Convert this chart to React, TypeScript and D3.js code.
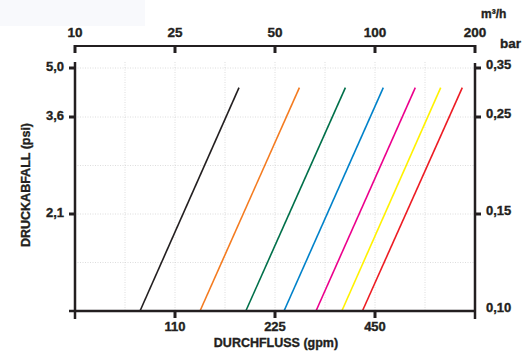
import React from "react";
import * as d3 from "d3";

// ---- data ----
const m3hTicks = [10, 25, 50, 100, 200];
const gpmDomain = [44, 110, 225, 450, 880];
const gpmTicks = [110, 225, 450];
const barDomain = [0.1, 0.15, 0.25, 0.35];
const barTicks = [0.35, 0.25, 0.15];
const barTickLabels = ["0,35", "0,25", "0,15"];
const barBottomLabel = "0,10";
const psiDomain = [1.45, 2.1, 3.6, 5.0];
const psiTicks = [5.0, 3.6, 2.1];
const psiTickLabels = ["5,0", "3,6", "2,1"];
const gridX = [17.5, 25, 37.5, 50, 75, 100, 150];
const gridY = [0.125, 0.15, 0.2, 0.25, 0.35];

const seriesColors = ["#231f20", "#f47b20", "#00704a", "#0082ca", "#ec008c", "#fff200", "#ed1c24"];
// flow (m³/h) at 0.10 bar and at 0.31 bar
const flowLow = [19.75, 31.25, 42.7, 54.5, 70.5, 83.4, 93.7];
const flowHigh = [41, 62.2, 85.2, 108.3, 140.3, 165.7, 187.3];
const pLow = 0.1;
const pHigh = 0.31;

const W = 530;
const H = 356;
const X0 = 75;
const X1 = 475;
const YB = 311;
const YT = 68;

const x = d3.scaleLinear().domain(m3hTicks).range(d3.range(m3hTicks.length).map((i) => X0 + (i * (X1 - X0)) / (m3hTicks.length - 1)));
const xg = d3.scaleLinear().domain(gpmDomain).range(x.range());
const yRange = [YB, 214, 117, YT];
const y = d3.scaleLinear().domain(barDomain).range(yRange);
const yp = d3.scaleLinear().domain(psiDomain).range(yRange);

const line = d3.line<[number, number]>().x((d) => x(d[0])).y((d) => y(d[1]));

const ink = "#231f20";
const font = "'Liberation Sans', Arial, Helvetica, sans-serif";

export default function App() {
  return (
    <svg width={W} height={H} style={{ position: "absolute", left: 0, top: 0, background: "#fff" }} fontFamily={font} fontWeight="bold" fill={ink}>
      <rect x={0} y={0} width={145} height={26} fill="#f8f9fc" />
      {/* grid */}
      {gridX.map((v, i) => (
        <line key={"gx" + i} x1={x(v)} x2={x(v)} y1={62} y2={YB} stroke="#d4d4d4" strokeWidth={0.8} strokeDasharray="1 1.5" />
      ))}
      {gridY.map((v, i) => (
        <line key={"gy" + i} x1={X0} x2={X1} y1={y(v)} y2={y(v)} stroke="#d4d4d4" strokeWidth={0.8} strokeDasharray="1 1.5" />
      ))}
      {/* series */}
      {seriesColors.map((c, i) => (
        <path key={"s" + i} d={line([[flowLow[i], pLow], [flowHigh[i], pHigh]]) || ""} fill="none" stroke={c} strokeWidth={1.6} />
      ))}
      <g stroke={ink} strokeWidth={0.35}>
        {/* top axis */}
        <line x1={X0} x2={X1} y1={46} y2={46} stroke={ink} strokeWidth={2} />
        {m3hTicks.map((v) => (
          <g key={"t" + v}>
            <line x1={x(v)} x2={x(v)} y1={45} y2={53} stroke={ink} strokeWidth={3} />
            <text x={x(v)} y={37} textAnchor="middle" fontSize={13.5}>{v}</text>
          </g>
        ))}
        <text x={481} y={18} fontSize={12}>m³/h</text>
        <text x={500} y={48} fontSize={13.5}>bar</text>
        {/* left axis */}
        <line x1={X0} x2={X0} y1={62} y2={319} stroke={ink} strokeWidth={2.5} />
        {psiTicks.map((v, i) => (
          <g key={"p" + v}>
            <line x1={69} x2={X0} y1={yp(v)} y2={yp(v)} stroke={ink} strokeWidth={3} />
            <text x={64} y={yp(v) + 3} textAnchor="end" fontSize={13}>{psiTickLabels[i]}</text>
          </g>
        ))}
        {/* right axis */}
        <line x1={X1} x2={X1} y1={63} y2={319} stroke={ink} strokeWidth={2.5} />
        {barTicks.map((v, i) => (
          <g key={"b" + v}>
            <line x1={X1} x2={481} y1={y(v)} y2={y(v)} stroke={ink} strokeWidth={3} />
            <text x={486} y={y(v) + 1} fontSize={13}>{barTickLabels[i]}</text>
          </g>
        ))}
        <text x={486} y={y(barDomain[0]) + 1} fontSize={13}>{barBottomLabel}</text>
        {/* bottom axis */}
        <line x1={69} x2={X1} y1={YB} y2={YB} stroke={ink} strokeWidth={2.5} />
        {gpmTicks.map((v) => (
          <g key={"g" + v}>
            <line x1={xg(v)} x2={xg(v)} y1={YB} y2={318} stroke={ink} strokeWidth={3} />
            <text x={xg(v)} y={331} textAnchor="middle" fontSize={13}>{v}</text>
          </g>
        ))}
        <text x={276} y={347} textAnchor="middle" fontSize={12.5}>DURCHFLUSS (gpm)</text>
        <text transform="translate(29.5,185) rotate(-90)" textAnchor="middle" fontSize={12.5}>DRUCKABFALL (psi)</text>
      </g>
    </svg>
  );
}
